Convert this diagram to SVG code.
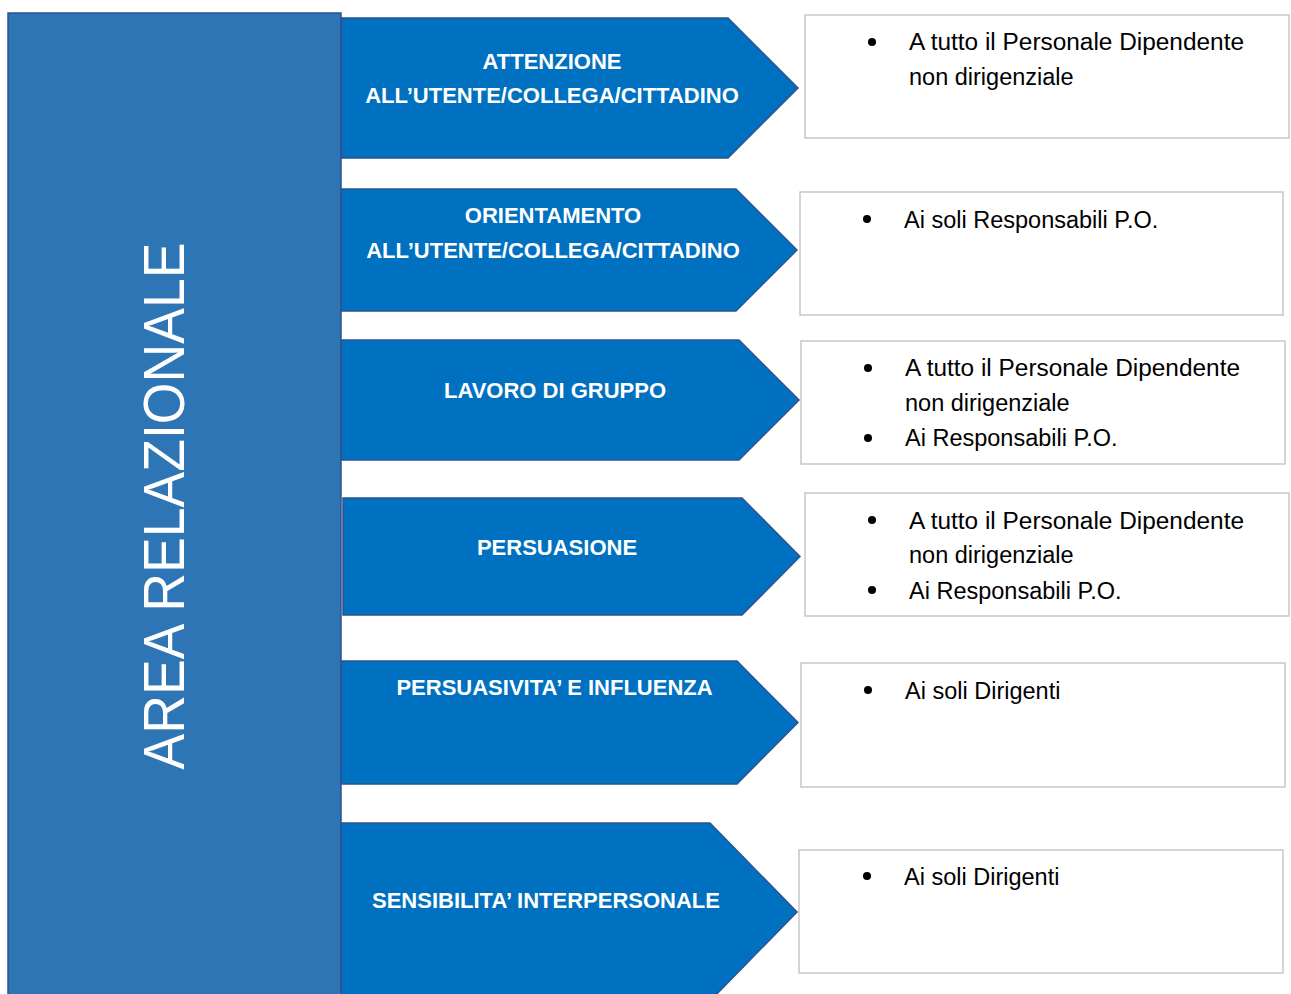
<svg xmlns="http://www.w3.org/2000/svg" width="1291" height="994" viewBox="0 0 1291 994">
<style>
.bar{fill:#2E75B6;stroke:#2F528F;stroke-width:1.5}
.arr{fill:#0070C0;stroke:#2F528F;stroke-width:1.5}
.box{fill:#FFFFFF;stroke:#BFBFBF;stroke-width:1.3}
.h{font-family:"Liberation Sans",Arial,sans-serif;font-weight:bold;font-size:22px;fill:#FFFFFF;text-anchor:middle}
.t{font-family:"Liberation Sans",Arial,sans-serif;font-size:23.5px;fill:#000000}
.title{font-family:"Liberation Sans",Arial,sans-serif;font-size:57px;fill:#FFFFFF;text-anchor:middle}
.dot{fill:#000000}
</style>
<rect width="1291" height="994" fill="#FFFFFF"/>
<g id="area">
<rect class="bar" x="8" y="13" width="333" height="990"/>
<text class="title" transform="translate(184,506) rotate(-90)" textLength="527" lengthAdjust="spacingAndGlyphs">AREA RELAZIONALE</text>
</g>
<g id="connectors"></g>
<g id="n1">
<polygon class="arr" points="341,18 728,18 798,88 728,158 341,158"/>
<text class="h" x="552" y="69">ATTENZIONE</text>
<text class="h" x="552" y="103">ALL’UTENTE/COLLEGA/CITTADINO</text>
</g>
<g id="n2">
<polygon class="arr" points="341,189 736,189 797,250 736,311 341,311"/>
<text class="h" x="553" y="223">ORIENTAMENTO</text>
<text class="h" x="553" y="258">ALL’UTENTE/COLLEGA/CITTADINO</text>
</g>
<g id="n3">
<polygon class="arr" points="341,340 739,340 799,400 739,460 341,460"/>
<text class="h" x="555" y="398">LAVORO DI GRUPPO</text>
</g>
<g id="n4">
<polygon class="arr" points="343,498 742,498 800,556.5 742,615 343,615"/>
<text class="h" x="557" y="555">PERSUASIONE</text>
</g>
<g id="n5">
<polygon class="arr" points="341,661 737,661 798,722.5 737,784 341,784"/>
<text class="h" x="554.5" y="695">PERSUASIVITA’ E INFLUENZA</text>
</g>
<g id="n6">
<polygon class="arr" points="341,823 710,823 797,912 710,1001 341,1001"/>
<text class="h" x="546" y="908">SENSIBILITA’ INTERPERSONALE</text>
</g>
<g id="b1">
<rect class="box" x="805" y="15" width="484" height="123"/>
<circle class="dot" cx="872" cy="42" r="4"/>
<text class="t" x="909" y="50" textLength="335" lengthAdjust="spacingAndGlyphs">A tutto il Personale Dipendente</text>
<text class="t" x="909" y="85">non dirigenziale</text>
</g>
<g id="b2">
<rect class="box" x="800" y="192" width="483" height="123"/>
<circle class="dot" cx="867" cy="219" r="4"/>
<text class="t" x="904" y="228">Ai soli Responsabili P.O.</text>
</g>
<g id="b3">
<rect class="box" x="801" y="341" width="484" height="123"/>
<circle class="dot" cx="868" cy="368" r="4"/>
<text class="t" x="905" y="376" textLength="335" lengthAdjust="spacingAndGlyphs">A tutto il Personale Dipendente</text>
<text class="t" x="905" y="411">non dirigenziale</text>
<circle class="dot" cx="868" cy="438" r="4"/>
<text class="t" x="905" y="446">Ai Responsabili P.O.</text>
</g>
<g id="b4">
<rect class="box" x="805" y="493" width="484" height="123"/>
<circle class="dot" cx="872" cy="520" r="4"/>
<text class="t" x="909" y="529" textLength="335" lengthAdjust="spacingAndGlyphs">A tutto il Personale Dipendente</text>
<text class="t" x="909" y="563">non dirigenziale</text>
<circle class="dot" cx="872" cy="590" r="4"/>
<text class="t" x="909" y="599">Ai Responsabili P.O.</text>
</g>
<g id="b5">
<rect class="box" x="801" y="663" width="484" height="124"/>
<circle class="dot" cx="868" cy="690" r="4"/>
<text class="t" x="905" y="699">Ai soli Dirigenti</text>
</g>
<g id="b6">
<rect class="box" x="799" y="850" width="484" height="123"/>
<circle class="dot" cx="867" cy="876" r="4"/>
<text class="t" x="904" y="885">Ai soli Dirigenti</text>
</g>
</svg>
